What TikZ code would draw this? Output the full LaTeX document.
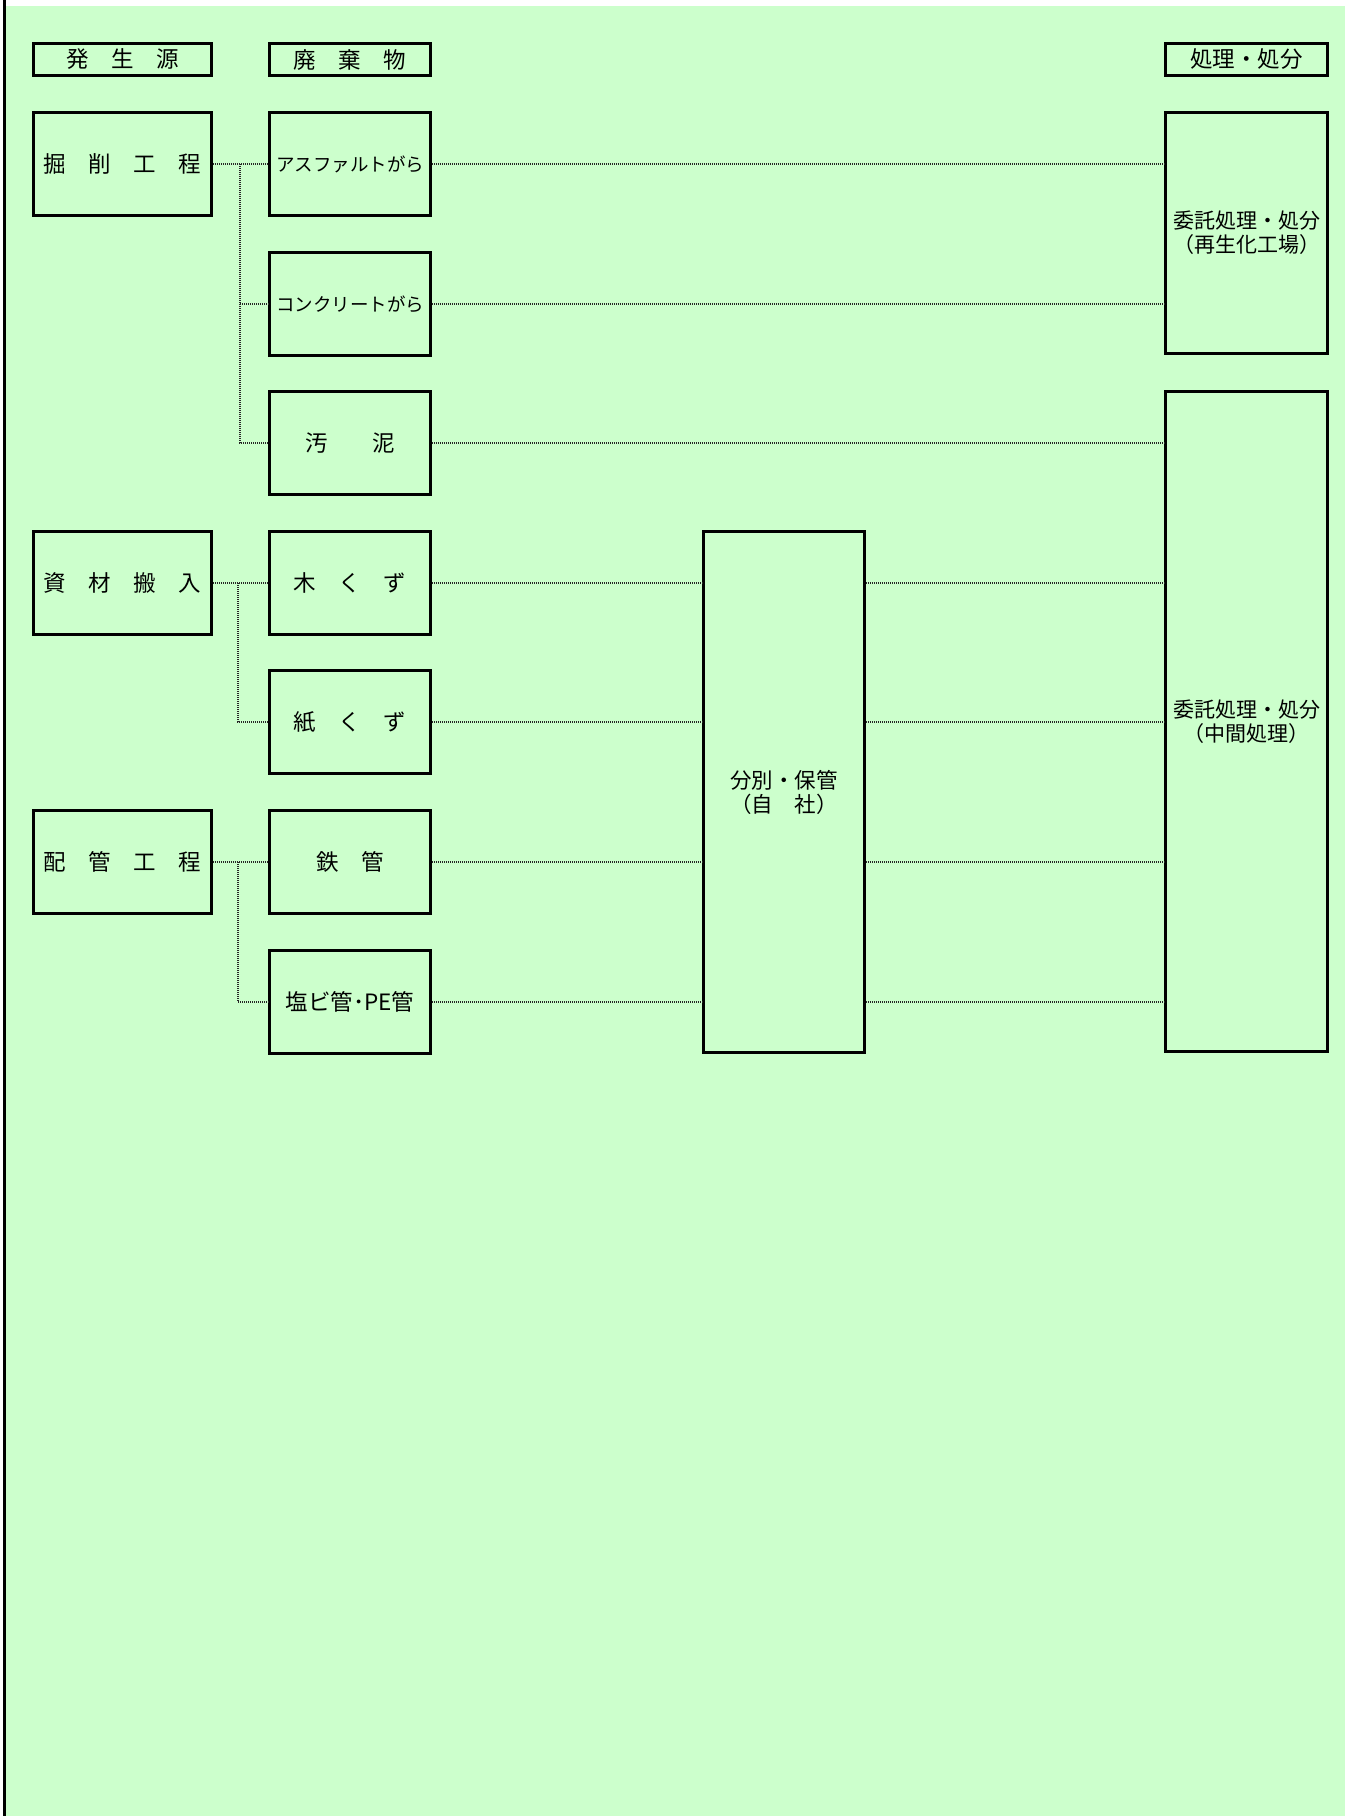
\documentclass[tikz,border=0pt]{standalone}
\usepackage{fontspec}
\setmainfont{Noto Sans CJK JP}
\definecolor{bggreen}{RGB}{204,255,204}
\tikzset{
  box/.style={draw=black, line width=2.8pt, inner sep=0pt, align=center,
    font={\fontsize{22.5}{22.5}\selectfont}},
  hdr/.style={box, minimum height=32pt},
  srcbox/.style={box, minimum width=178pt, minimum height=103pt},
  wbox/.style={box, minimum width=161pt, minimum height=103pt},
  small/.style={font={\fontsize{18.5}{18.5}\selectfont}},
  twoline/.style={font={\fontsize{21.5}{24}\selectfont}},
  rbox/.style={box, minimum width=162pt, font={\fontsize{21}{24}\selectfont}},
  dots/.style={draw=black!85, line width=1.2pt, dash pattern=on 1pt off 1pt}
}
\begin{document}
\begin{tikzpicture}[x=1pt, y=-1pt]
\useasboundingbox (0,0) rectangle (1349,1816);
\fill[white] (0,0) rectangle (1349,1816);
\fill[bggreen] (6,6) rectangle (1345,1816);
\fill[black] (3.3,0) rectangle (6,1816);

% headers
\node[hdr, minimum width=178pt] (h1) at (122.5,59.5) {発　生　源};
\node[hdr, minimum width=161pt] (h2) at (350,59.5) {廃　棄　物};
\node[hdr, minimum width=162pt] (h3) at (1246.5,59.5) {処理・処分};

% sources
\node[srcbox] (s1) at (122.5,164) {掘　削　工　程};
\node[srcbox] (s2) at (122.5,583) {資　材　搬　入};
\node[srcbox] (s3) at (122.5,862) {配　管　工　程};

% wastes
\node[wbox, small] (w1) at (350,164) {アスファルトがら};
\node[wbox, small] (w2) at (350,304) {コンクリートがら};
\node[wbox] (w3) at (350,443) {汚　　泥};
\node[wbox] (w4) at (350,583) {木　く　ず};
\node[wbox] (w5) at (350,722) {紙　く　ず};
\node[wbox] (w6) at (350,862) {鉄　管};
\node[wbox] (w7) at (350,1002) {塩ビ管･PE管};

% sorting
\node[box, twoline, minimum width=161pt, minimum height=521pt] (sort) at (784,792) {分別・保管\\（自　社）};

% disposal
\node[rbox, minimum height=241pt] (r1) at (1246.5,233) {委託処理・処分\\（再生化工場）};
\node[rbox, minimum height=660pt] (r2) at (1246.5,721.5) {委託処理・処分\\（中間処理）};

% source connectors
\coordinate (j1) at (240,164);
\draw[dots] (s1.east) -- (w1.west);
\draw[dots] (j1) |- (w3.west);
\draw[dots] (j1 |- w2.west) -- (w2.west);

\coordinate (j2) at (238,583);
\draw[dots] (s2.east) -- (w4.west);
\draw[dots] (j2) |- (w5.west);

\coordinate (j3) at (238,862);
\draw[dots] (s3.east) -- (w6.west);
\draw[dots] (j3) |- (w7.west);

% waste to disposal
\draw[dots] (w1.east) -- (w1.east -| r1.west);
\draw[dots] (w2.east) -- (w2.east -| r1.west);
\draw[dots] (w3.east) -- (w3.east -| r2.west);
\foreach \w in {w4,w5,w6,w7}{
  \draw[dots] (\w.east) -- (\w.east -| sort.west);
  \draw[dots] (\w.east -| sort.east) -- (\w.east -| r2.west);
}
\end{tikzpicture}
\end{document}
